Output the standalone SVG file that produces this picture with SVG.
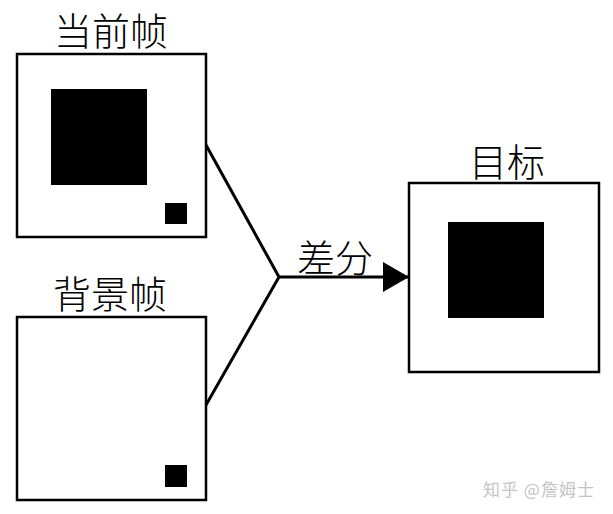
<svg xmlns="http://www.w3.org/2000/svg" width="613" height="514" viewBox="0 0 613 514">
<defs>
<style>
.frame{fill:#fff;stroke:#000;stroke-width:2.5}
.blk{fill:#000}
.lbl{font-family:"Noto Sans CJK SC","Noto Sans CJK JP",sans-serif;font-size:38px;font-weight:300;fill:#000;text-anchor:middle}
.conn{fill:none;stroke:#000;stroke-width:3}
.wm{font-family:"Noto Sans CJK SC",sans-serif;font-size:17px;fill:#c4c4c4;letter-spacing:1px}
</style>
<marker id="arr" viewBox="0 0 26 30" refX="26" refY="15" markerWidth="26" markerHeight="30" markerUnits="userSpaceOnUse" orient="auto">
<path d="M0,0 L26,15 L0,30 Z" fill="#000"/>
</marker>
</defs>
<rect width="613" height="514" fill="#fff"/>
<g id="current-frame">
<text class="lbl" x="111" y="45">当前帧</text>
<rect class="frame" x="17" y="54" width="189" height="183"/>
<rect class="blk" x="51" y="89" width="96" height="96"/>
<rect class="blk" x="165" y="203" width="22" height="21"/>
</g>
<g id="background-frame">
<text class="lbl" x="110" y="308">背景帧</text>
<rect class="frame" x="17" y="317" width="189" height="183"/>
<rect class="blk" x="165" y="465" width="22" height="22"/>
</g>
<g id="target">
<text class="lbl" x="507" y="176">目标</text>
<rect class="frame" x="409" y="183" width="190" height="189"/>
<rect class="blk" x="448" y="222" width="96" height="96"/>
</g>
<g id="connectors">
<polyline class="conn" points="206,145 279,277 206,405"/>
<line class="conn" x1="279" y1="277" x2="409" y2="277" marker-end="url(#arr)"/>
<text class="lbl" x="335" y="272">差分</text>
</g>
<text class="wm" x="483" y="496">知乎 @詹姆士</text>
</svg>
